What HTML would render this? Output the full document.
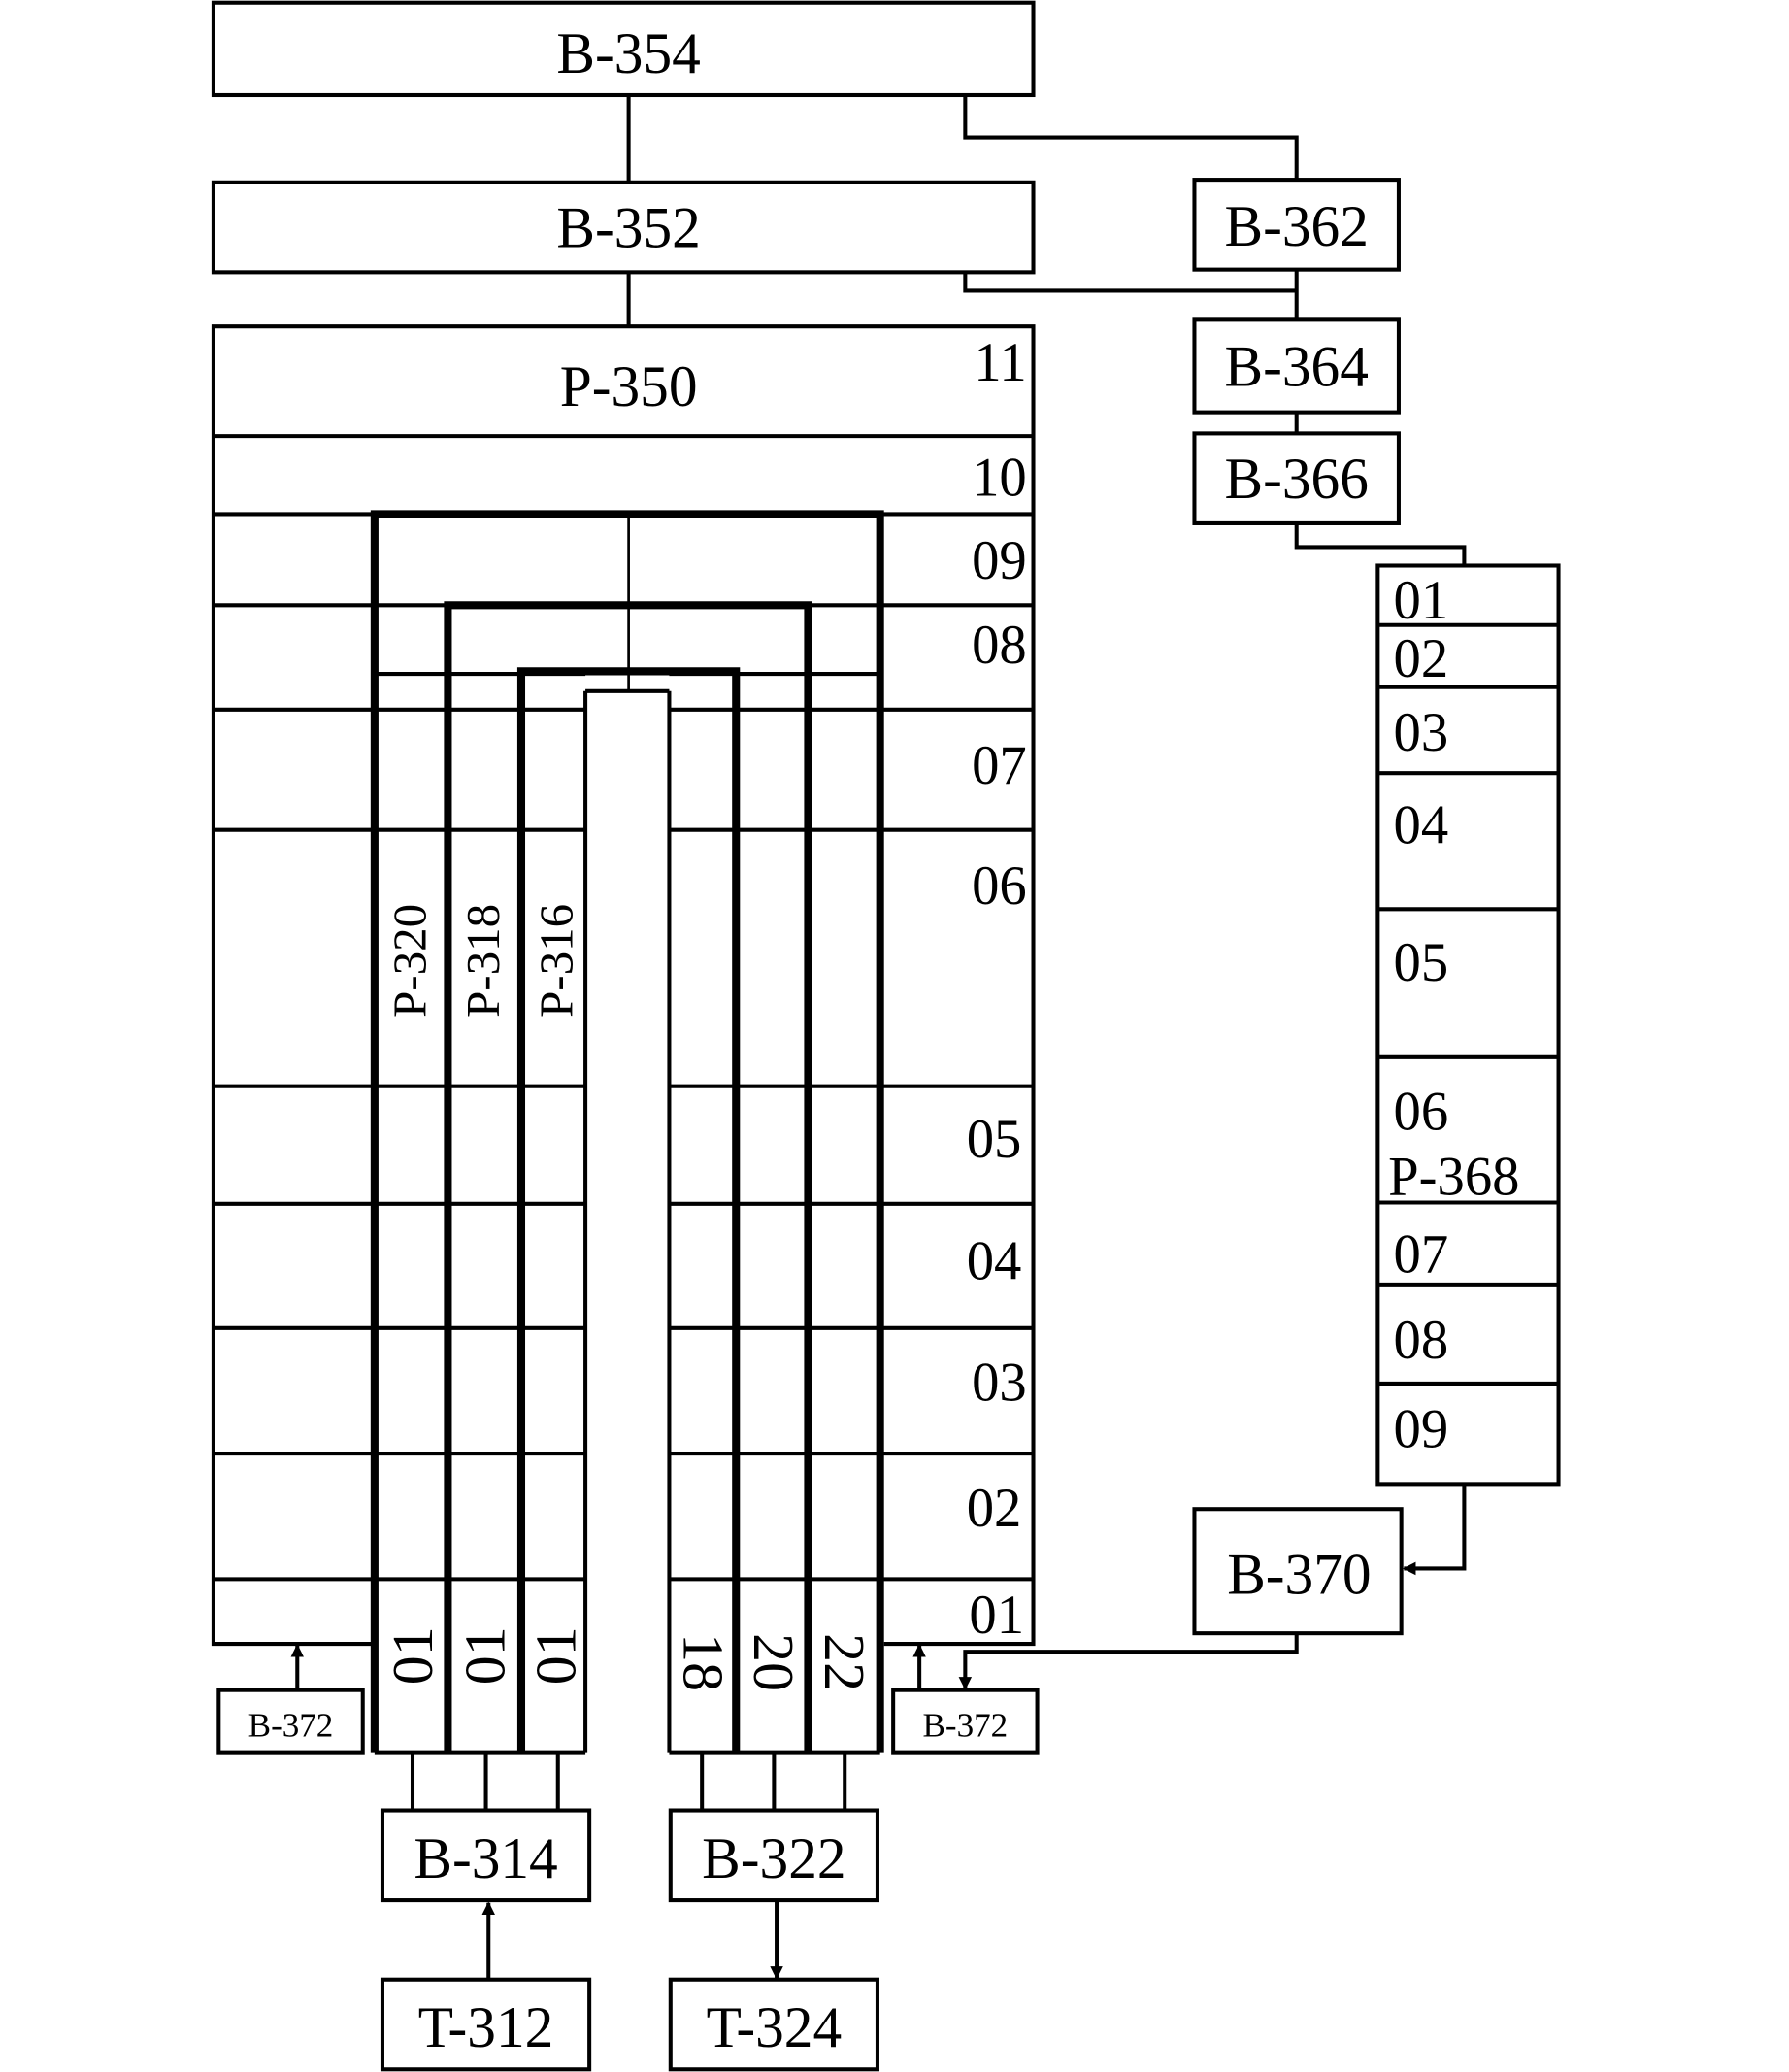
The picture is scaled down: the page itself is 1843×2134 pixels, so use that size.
<!DOCTYPE html>
<html><head><meta charset="utf-8"><style>html,body{margin:0;padding:0;background:#fff}svg{display:block}</style></head><body>
<svg width="1843" height="2134" viewBox="0 0 1366 1568" preserveAspectRatio="none" xmlns="http://www.w3.org/2000/svg" font-family="Liberation Serif, serif">
<defs><marker id="a" markerWidth="10" markerHeight="10" refX="9" refY="5" orient="auto" markerUnits="userSpaceOnUse"><path d="M0,0 L10,5 L0,10 z" fill="#000"/></marker></defs>
<g fill="none" stroke="#000" stroke-width="3">
<rect x="163" y="2" width="626" height="70"/>
<rect x="163" y="138" width="626" height="68"/>
<rect x="912" y="136" width="156" height="68"/>
<rect x="912" y="242" width="156" height="70"/>
<rect x="912" y="328" width="156" height="68"/>
<rect x="1052" y="428" width="138" height="695"/>
<rect x="912" y="1142" width="158" height="94"/>
<rect x="167" y="1279" width="110" height="47"/>
<rect x="682" y="1279" width="110" height="47"/>
<rect x="292" y="1370" width="158" height="68"/>
<rect x="292" y="1498" width="158" height="68"/>
<rect x="512" y="1370" width="158" height="68"/>
<rect x="512" y="1498" width="158" height="68"/>
<path d="M480 72V138M737 72V104H990V136M480 206V247M737 206V220H990M990 204V242M990 312V328M990 396V414H1118V428"/>
<path d="M1118 1123V1187H1072" marker-end="url(#a)"/>
<path d="M990 1236V1250H737V1278" marker-end="url(#a)"/>
<path d="M702 1279V1245" marker-end="url(#a)"/>
<path d="M227 1279V1245" marker-end="url(#a)"/>
<path d="M373 1498V1440" marker-end="url(#a)"/>
<path d="M593 1438V1497" marker-end="url(#a)"/>
<path d="M315 1326V1370M371 1326V1370M426 1326V1370M536 1326V1370M591 1326V1370M645 1326V1370"/>
<path d="M1052 473H1190M1052 520H1190M1052 585H1190M1052 688H1190M1052 800H1190M1052 910H1190M1052 972H1190M1052 1047H1190"/>
<!-- P-350 outline -->
<path d="M286 1244H163V247H789V1244H675"/>
<path d="M163 330H789M163 389H789M163 458H789M163 537H447M511 537H789M163 628H447M511 628H789M163 822H447M511 822H789M163 911H447M511 911H789M163 1005H447M511 1005H789M163 1100H447M511 1100H789M163 1195H447M511 1195H789M286 510H447M511 510H672"/>
<path d="M447 523V1326M511 523V1326M447 523H511M286 1326H447M511 1326H672" />
<path d="M480 389V523" stroke-width="2"/>
</g>
<g fill="none" stroke="#000" stroke-width="6">
<path d="M286 1326V389H672V1326"/>
<path d="M342 1326V458H617V1326"/>
<path d="M398 1326V508H562V1326"/>
</g>
<g font-size="44" text-anchor="middle" fill="#000">
<text x="480" y="55">B-354</text>
<text x="480" y="187">B-352</text>
<text x="990" y="186">B-362</text>
<text x="990" y="292">B-364</text>
<text x="990" y="377">B-366</text>
<text x="480" y="307">P-350</text>
<text x="992" y="1206">B-370</text>
<text x="371" y="1421">B-314</text>
<text x="371" y="1549">T-312</text>
<text x="591" y="1421">B-322</text>
<text x="591" y="1549">T-324</text>
</g>
<g font-size="42" text-anchor="end" fill="#000">
<text x="784" y="288">11</text>
<text x="784" y="375">10</text>
<text x="784" y="438">09</text>
<text x="784" y="502">08</text>
<text x="784" y="593">07</text>
<text x="784" y="684">06</text>
<text x="780" y="876">05</text>
<text x="780" y="968">04</text>
<text x="784" y="1060">03</text>
<text x="780" y="1155">02</text>
<text x="782" y="1236">01</text>
</g>
<g font-size="42" fill="#000">
<text x="1064" y="468">01</text>
<text x="1064" y="512">02</text>
<text x="1064" y="568">03</text>
<text x="1064" y="638">04</text>
<text x="1064" y="742">05</text>
<text x="1064" y="855">06</text>
<text x="1060" y="904">P-368</text>
<text x="1064" y="963">07</text>
<text x="1064" y="1028">08</text>
<text x="1064" y="1095">09</text>
</g>
<g font-size="26" text-anchor="middle" fill="#000">
<text x="222" y="1314">B-372</text>
<text x="737" y="1314">B-372</text>
</g>
<g font-size="36" text-anchor="middle" fill="#000">
<text transform="translate(325,727) rotate(-90)">P-320</text>
<text transform="translate(381,727) rotate(-90)">P-318</text>
<text transform="translate(437,727) rotate(-90)">P-316</text>
</g>
<g font-size="44" text-anchor="middle" fill="#000">
<text transform="translate(330,1253) rotate(-90)">01</text>
<text transform="translate(385,1253) rotate(-90)">01</text>
<text transform="translate(439,1253) rotate(-90)">01</text>
<text transform="translate(522,1258) rotate(90)">18</text>
<text transform="translate(576,1258) rotate(90)">20</text>
<text transform="translate(630,1258) rotate(90)">22</text>
</g>
</svg>
</body></html>
